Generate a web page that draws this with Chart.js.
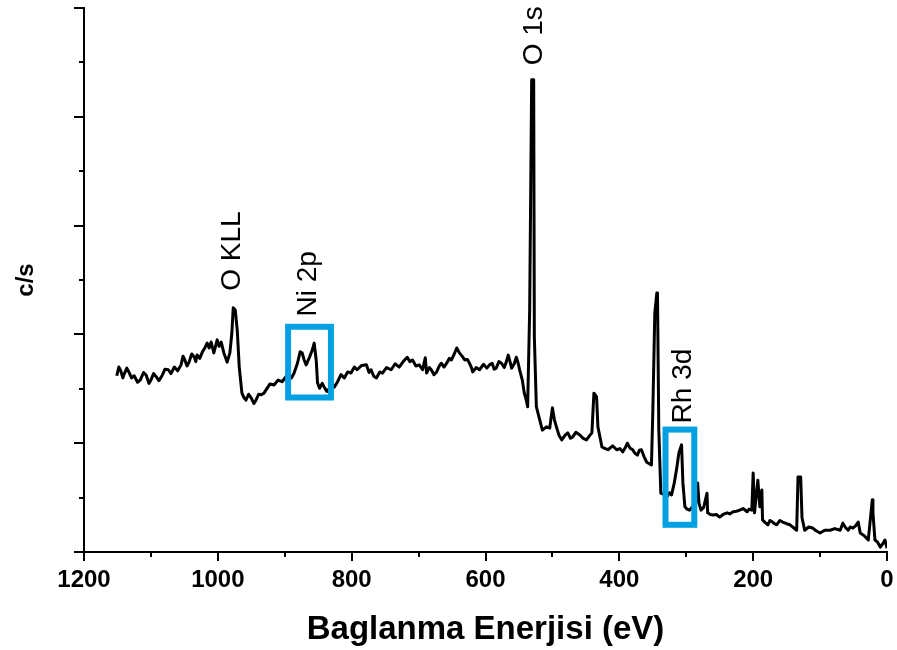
<!DOCTYPE html>
<html>
<head>
<meta charset="utf-8">
<script src="https://cdn.jsdelivr.net/npm/chart.js@4"></script>
<style>
  html, body { margin: 0; padding: 0; background: #fff; }
  #wrap { width: 897px; height: 650px; }
</style>
</head>
<body>
<div id="wrap"><canvas id="myChart" width="897" height="650"></canvas></div>
<script>
// Espectro XPS (energía de enlace en eV, intensidad c/s en unidades relativas)
const energiaEV = [
  1151,1148,1145,1142,1140,1136,1133,1129,1125,1120,
  1116,1111,1107,1103,1100,1096,1092,1088,1083,1079,
  1074,1070,1065,1060,1055,1052,1050,1046,1043,1039,
  1035,1033,1031,1027,1023,1019,1016,1013,1010,1006,
  1003,1001,998,995,991,986,982,979,977,974,
  971,968,964,961,958,954,950,946,943,939,
  935,931,928,922,916,910,904,897,890,886,
  881,877,874,871,868,863,859,856,853,851,
  848,844,841,837,833,829,826,821,816,811,
  806,801,796,792,785,778,774,771,767,763,
  758,754,748,741,735,729,723,717,713,709,
  704,699,694,690,688,684,681,677,673,669,
  666,662,658,654,651,647,643,639,635,631,
  627,624,621,619,614,609,603,598,594,590,
  587,584,580,576,572,569,566,563,561,557,
  554,551,549,545,542,539,537,534,531,528,
  527,524,519,515,509,504,500,497,494,490,
  486,481,477,473,470,465,459,454,449,445,
  441,438,434,432,426,421,417,410,404,399,
  395,391,388,384,380,377,373,370,367,363,
  359,352,350,347,344,343,341,338,333,329,
  325,322,318,314,311,307,305,302,299,295,
  291,287,283,281,278,274,269,268,264,260,
  255,250,245,239,235,230,225,220,215,209,
  206,202,200,198,193,190,187,186,182,178,
  175,171,168,165,160,156,150,145,140,135,
  133,129,127,123,117,111,106,100,93,85,
  78,70,66,62,58,55,51,47,43,40,
  34,28,22,21,18,14,10,6,3,0
];
const intensidad = [
  32.4,34.0,33.3,32.0,32.7,33.8,33.1,32.0,32.4,31.2,
  31.6,33.0,32.5,31.0,31.6,32.8,32.2,31.5,32.5,33.6,
  33.5,32.8,34.0,33.3,34.4,36.0,35.5,34.2,34.9,36.4,
  35.8,35.0,36.2,35.6,36.8,37.6,38.4,37.5,38.6,36.6,
  38.0,39.0,37.8,38.6,36.6,34.9,36.6,40.3,44.9,44.5,
  40.8,34.0,29.2,28.4,27.9,29.0,28.3,27.3,27.9,29.0,
  28.9,29.2,29.8,30.9,30.7,31.6,31.3,32.4,32.0,32.9,
  34.7,36.8,36.6,35.3,34.4,35.8,37.1,38.4,35.3,31.1,
  30.1,31.0,30.3,29.5,30.1,30.9,30.3,31.3,32.6,32.0,
  33.1,32.9,34.0,33.5,34.3,34.4,33.0,33.5,32.3,32.0,
  33.1,32.9,33.9,33.5,34.6,34.0,35.0,35.8,35.0,35.3,
  34.2,34.4,33.5,35.7,32.9,33.9,33.5,32.6,33.1,34.2,
  34.7,34.0,34.7,35.6,35.3,36.3,37.5,36.6,36.0,35.3,
  35.4,34.7,33.9,33.1,33.9,33.5,34.5,33.8,34.4,34.7,
  33.6,33.8,35.0,34.7,33.9,34.9,36.2,34.8,33.8,34.6,
  35.8,34.6,33.5,31.6,29.2,27.9,26.7,44.5,86.8,86.8,
  39.5,26.7,24.3,22.4,23.0,22.8,26.5,24.3,23.0,21.4,
  20.6,21.5,21.9,20.9,21.1,22.0,21.5,20.9,20.6,21.3,
  21.9,29.2,28.5,23.0,19.3,19.0,18.8,19.5,18.8,19.0,
  18.4,19.2,20.0,19.1,18.8,18.2,17.8,18.7,18.8,17.5,
  16.5,16.0,25.6,43.9,47.6,47.6,22.4,10.8,10.6,10.1,
  10.9,10.5,12.6,15.6,18.2,19.7,12.7,8.3,7.9,7.7,
  8.3,7.7,12.7,9.0,7.7,8.2,10.8,7.2,6.9,6.8,
  6.9,6.4,6.9,7.2,7.0,7.4,7.5,7.7,8.0,7.4,
  7.9,7.7,14.5,7.2,13.2,8.3,11.4,5.9,5.4,5.0,
  5.8,5.5,5.2,5.0,5.8,5.5,5.2,5.0,4.5,4.0,
  13.8,13.8,6.3,4.0,4.6,4.4,3.9,3.5,4.0,4.0,
  4.3,4.0,5.3,4.5,4.0,4.6,4.4,4.8,5.5,3.5,
  3.0,2.2,9.6,7.2,2.2,1.8,0.9,1.6,2.2,0.7
];

// Etiquetas de picos (posición en eV / intensidad)
const picosTexto = ["O KLL", "Ni 2p", "O 1s", "Rh 3d"];
const picosEV = [979, 865, 527, 305];
const picosY = [55.3, 49.3, 94.9, 30.5];

// Recuadros azules (rango en eV y en intensidad)
const cajaEVdesde = [895, 331];
const cajaEVhasta = [831, 288];
const cajaYarriba = [41.4, 22.5];
const cajaYabajo = [28.4, 5.0];

// Ejes
const ejeXmin = 0, ejeXmax = 1200, ejeXpaso = 100;
const ejeYmin = 0, ejeYmax = 100, ejeYpaso = 10;

const fuente = "'Liberation Sans', Arial, sans-serif";

// ticks mayores y menores dibujados a mano
const marcasPlugin = {
  id: "marcas",
  afterDraw(chart) {
    const { ctx, scales } = chart;
    const x = scales.x, y = scales.y;
    ctx.save();
    ctx.strokeStyle = "#000";
    ctx.lineWidth = 2;
    x.ticks.forEach((t) => {
      const px = Math.round(x.getPixelForValue(t.value));
      const len = t.value % 200 === 0 ? 9 : 5;
      ctx.beginPath();
      ctx.moveTo(px, x.top);
      ctx.lineTo(px, x.top + len);
      ctx.stroke();
    });
    y.ticks.forEach((t) => {
      const py = Math.round(y.getPixelForValue(t.value));
      const len = t.value % 20 === 0 ? 10 : 5;
      ctx.beginPath();
      ctx.moveTo(y.right - len, py);
      ctx.lineTo(y.right, py);
      ctx.stroke();
    });
    ctx.restore();
  },
};

// anotaciones: recuadros y textos rotados
const anotacionesPlugin = {
  id: "anotaciones",
  afterDatasetsDraw(chart) {
    const { ctx, scales } = chart;
    const x = scales.x, y = scales.y;
    ctx.save();
    ctx.strokeStyle = "#00a0e3";
    ctx.lineWidth = 6;
    cajaEVdesde.forEach((e, i) => {
      const x1 = x.getPixelForValue(e);
      const x2 = x.getPixelForValue(cajaEVhasta[i]);
      const y1 = y.getPixelForValue(cajaYarriba[i]);
      const y2 = y.getPixelForValue(cajaYabajo[i]);
      ctx.strokeRect(x1, y1, x2 - x1, y2 - y1);
    });
    ctx.fillStyle = "#000";
    ctx.font = "28px " + fuente;
    ctx.textAlign = "center";
    ctx.textBaseline = "middle";
    picosTexto.forEach((txt, i) => {
      ctx.save();
      ctx.translate(x.getPixelForValue(picosEV[i]), y.getPixelForValue(picosY[i]));
      ctx.rotate(-Math.PI / 2);
      ctx.fillText(txt, 0, 0);
      ctx.restore();
    });
    ctx.restore();
  },
};

const ctx = document.getElementById("myChart").getContext("2d");

new Chart(ctx, {
  type: "line",
  data: {
    datasets: [
      {
        label: "XPS",
        data: energiaEV.map((e, i) => ({ x: e, y: intensidad[i] })),
        borderColor: "#000",
        borderWidth: 3,
        borderJoinStyle: "round",
        pointRadius: 0,
        tension: 0,
        fill: false,
      },
    ],
  },
  options: {
    responsive: false,
    animation: false,
    layout: { padding: { top: 8, right: 0, left: 0, bottom: 0 } },
    plugins: {
      legend: { display: false },
      tooltip: { enabled: false },
    },
    scales: {
      x: {
        type: "linear",
        reverse: true,
        min: ejeXmin,
        max: ejeXmax,
        grid: { display: false, drawTicks: false },
        border: { display: true, color: "#000", width: 2 },
        ticks: {
          stepSize: ejeXpaso,
          autoSkip: false,
          maxRotation: 0,
          padding: 14,
          color: "#000",
          font: { family: fuente, size: 24, weight: "bold" },
          callback: (v) => (v % 200 === 0 ? v : ""),
        },
        title: {
          display: true,
          text: "Baglanma Enerjisi (eV)",
          color: "#000",
          font: { family: fuente, size: 33, weight: "bold" },
          padding: { top: 0, bottom: 0 },
        },
        afterFit: (s) => {
          s.height = 98;
          s.paddingLeft = 0;
          s.paddingRight = 10;
        },
      },
      y: {
        min: ejeYmin,
        max: ejeYmax,
        grid: { display: false, drawTicks: false },
        border: { display: true, color: "#000", width: 2 },
        ticks: { stepSize: ejeYpaso, display: false },
        title: {
          display: true,
          text: "c/s",
          color: "#000",
          font: { family: fuente, size: 24, weight: "bold" },
          padding: { top: 12, bottom: 0 },
        },
        afterFit: (s) => { s.width = 84; },
      },
    },
  },
  plugins: [marcasPlugin, anotacionesPlugin],
});
</script>
</body>
</html>
